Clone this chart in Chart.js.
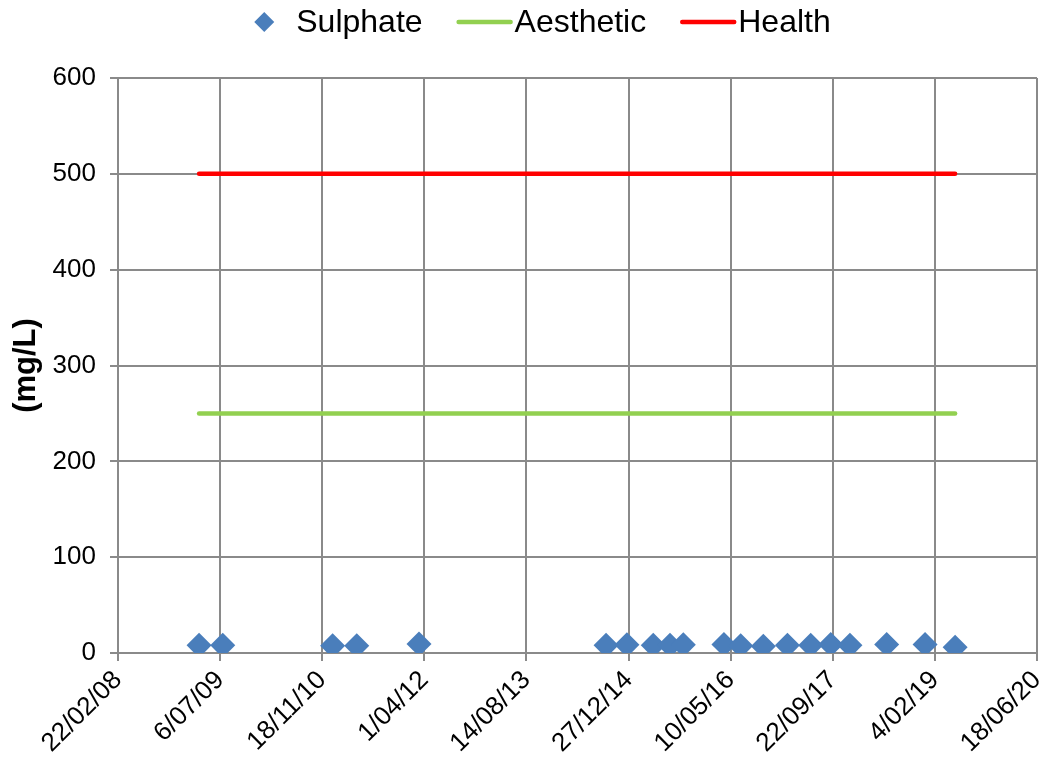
<!DOCTYPE html>
<html>
<head>
<meta charset="utf-8">
<script src="https://cdn.jsdelivr.net/npm/chart.js@4.4.0/dist/chart.umd.min.js"></script>
<style>
  html, body { margin: 0; padding: 0; background: #ffffff; }
  #wrap { width: 1045px; height: 762px; }
</style>
</head>
<body>
<div id="wrap"><canvas id="chart" width="1045" height="762"></canvas></div>
<script>
// Sampling dates and sulphate results (mg/L)
const sampleDates = [
  '2009-03-25', '2009-07-19', '2011-01-08', '2011-05-06', '2012-03-06',
  '2014-09-08', '2014-12-19', '2015-04-27', '2015-07-18', '2015-09-21',
  '2016-04-07', '2016-06-28', '2016-10-17', '2017-02-12', '2017-06-06',
  '2017-09-12', '2017-12-15', '2018-06-13', '2018-12-18', '2019-05-14'
];
const sulphate = [
  8, 8, 7.5, 7.5, 9.5,
  8, 8.5, 8, 8, 8.5,
  9, 7.5, 7, 8, 8,
  9, 8, 9, 9, 6
];

// Guideline values (mg/L)
const aestheticLimit = 250;
const healthLimit = 500;

// Axis tick labels
const xTickLabels = [
  '22/02/08', '6/07/09', '18/11/10', '1/04/12', '14/08/13',
  '27/12/14', '10/05/16', '22/09/17', '4/02/19', '18/06/20'
];
const yTicks = [0, 100, 200, 300, 400, 500, 600];

// Spreadsheet-style day numbers keep the date axis linear
const EPOCH = Date.UTC(1899, 11, 30);
function isoToSerial(s) {
  const [y, m, d] = s.split('-').map(Number);
  return Math.round((Date.UTC(y, m - 1, d) - EPOCH) / 86400000);
}
function labelToSerial(s) {
  const [d, m, yy] = s.split('/').map(Number);
  return Math.round((Date.UTC(2000 + yy, m - 1, d) - EPOCH) / 86400000);
}

const xMin = labelToSerial(xTickLabels[0]);
const xStep = labelToSerial(xTickLabels[1]) - xMin;
const xMax = labelToSerial(xTickLabels[xTickLabels.length - 1]);
const sampleX = sampleDates.map(isoToSerial);
const firstX = Math.min(...sampleX);
const lastX = Math.max(...sampleX);

const FONT = '"Liberation Sans", Arial, sans-serif';
const GRID = '#8a8a8a';

// Legend row across the top
const topLegend = {
  id: 'topLegend',
  afterDraw(chart) {
    const ctx = chart.ctx;
    ctx.save();
    ctx.font = '32px ' + FONT;
    ctx.textBaseline = 'middle';
    ctx.textAlign = 'left';
    const y = 22;
    const diamondR = 10, lineLen = 56, itemGap = 34;
    const items = chart.data.datasets.map(ds => ({
      text: ds.label,
      color: ds.showLine ? ds.borderColor : ds.backgroundColor,
      line: !!ds.showLine,
      textW: ctx.measureText(ds.label).width
    }));
    items.forEach(it => { it.w = (it.line ? lineLen + 2 : diamondR * 2 + 22) + it.textW; });
    const total = items.reduce((a, it) => a + it.w, 0) + itemGap * (items.length - 1);
    let x = chart.width / 2 + 20 - total / 2;
    items.forEach(it => {
      if (it.line) {
        ctx.strokeStyle = it.color;
        ctx.lineWidth = 4.5;
        ctx.lineCap = 'round';
        ctx.beginPath();
        ctx.moveTo(x + 2, y);
        ctx.lineTo(x + lineLen - 2, y);
        ctx.stroke();
        ctx.fillStyle = '#000';
        ctx.fillText(it.text, x + lineLen + 2, y + 1);
      } else {
        ctx.fillStyle = it.color;
        ctx.beginPath();
        ctx.moveTo(x, y);
        ctx.lineTo(x + diamondR, y - diamondR);
        ctx.lineTo(x + 2 * diamondR, y);
        ctx.lineTo(x + diamondR, y + diamondR);
        ctx.closePath();
        ctx.fill();
        ctx.fillStyle = '#000';
        ctx.fillText(it.text, x + 2 * diamondR + 22, y + 1);
      }
      x += it.w + itemGap;
    });
    ctx.restore();
  }
};

new Chart(document.getElementById('chart'), {
  type: 'scatter',
  data: {
    datasets: [
      {
        label: 'Sulphate',
        data: sampleX.map((x, i) => ({ x, y: sulphate[i] })),
        showLine: false,
        pointStyle: 'rectRot',
        pointRadius: 12.5,
        pointHoverRadius: 12.5,
        backgroundColor: '#4a7ebb',
        borderColor: '#4a7ebb',
        borderWidth: 0
      },
      {
        label: 'Aesthetic',
        type: 'line',
        data: [{ x: firstX, y: aestheticLimit }, { x: lastX, y: aestheticLimit }],
        showLine: true,
        borderColor: '#92d050',
        backgroundColor: '#92d050',
        borderWidth: 4.5,
        borderCapStyle: 'round',
        pointRadius: 0,
        fill: false
      },
      {
        label: 'Health',
        type: 'line',
        data: [{ x: firstX, y: healthLimit }, { x: lastX, y: healthLimit }],
        showLine: true,
        borderColor: '#ff0000',
        backgroundColor: '#ff0000',
        borderWidth: 4.5,
        borderCapStyle: 'round',
        pointRadius: 0,
        fill: false
      }
    ]
  },
  options: {
    responsive: false,
    animation: false,
    events: [],
    layout: { autoPadding: false, padding: { top: 78, right: 8, bottom: 0, left: 0 } },
    plugins: {
      legend: { display: false },
      tooltip: { enabled: false }
    },
    scales: {
      x: {
        type: 'linear',
        min: xMin,
        max: xMax,
        afterBuildTicks(scale) {
          scale.ticks = xTickLabels.map((_, i) => ({ value: xMin + i * xStep }));
        },
        afterFit(scale) {
          scale.height = 109;
          scale.paddingRight = 0;
          scale.paddingLeft = 0;
        },
        ticks: {
          callback: v => xTickLabels[Math.round((v - xMin) / xStep)],
          maxRotation: 45,
          minRotation: 45,
          autoSkip: false,
          padding: 4,
          color: '#000',
          font: { family: FONT, size: 26 }
        },
        grid: { color: GRID, lineWidth: 2, tickLength: 8, drawTicks: true },
        border: { display: true, color: GRID, width: 2 }
      },
      y: {
        min: yTicks[0],
        max: yTicks[yTicks.length - 1],
        afterBuildTicks(scale) {
          scale.ticks = yTicks.map(v => ({ value: v }));
        },
        afterFit(scale) { scale.width = 118; },
        ticks: {
          padding: 14,
          color: '#000',
          font: { family: FONT, size: 26 }
        },
        grid: { color: GRID, lineWidth: 2, tickLength: 8, drawTicks: true },
        border: { display: true, color: GRID, width: 2 },
        title: {
          display: true,
          text: '(mg/L)',
          color: '#000',
          font: { family: FONT, size: 31, weight: 'bold' },
          padding: { top: 8, bottom: 0 }
        }
      }
    }
  },
  plugins: [topLegend]
});
</script>
</body>
</html>
